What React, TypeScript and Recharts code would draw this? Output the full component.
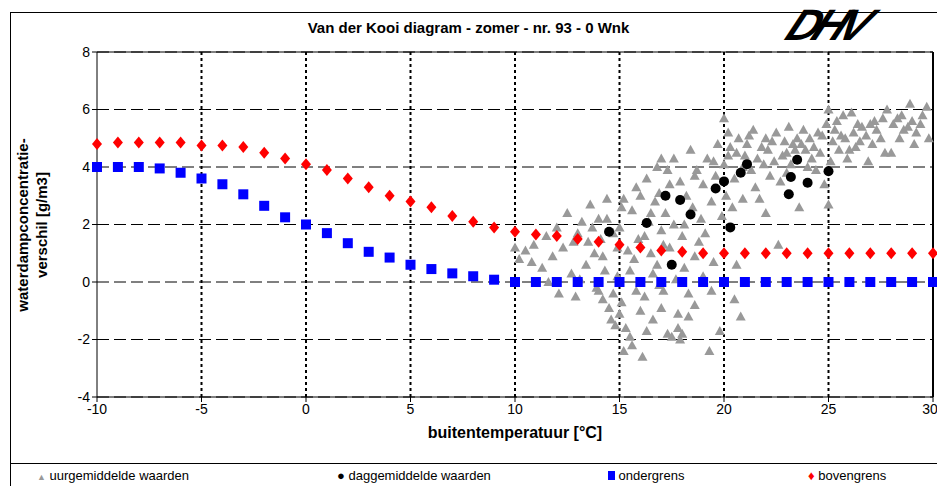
import { ScatterChart, Scatter, XAxis, YAxis, CartesianGrid, ReferenceLine } from 'recharts';

const xTicks = [-10, -5, 0, 5, 10, 15, 20, 25, 30];
const yTicks = [-4, -2, 0, 2, 4, 6, 8];

const ondergrensY = [4, 4, 4, 3.95, 3.8, 3.6, 3.4, 3.05, 2.65, 2.25, 2.0, 1.7, 1.35, 1.05, 0.85, 0.6, 0.45, 0.3, 0.2, 0.08,
  0, 0, 0, 0, 0, 0, 0, 0, 0, 0, 0, 0, 0, 0, 0, 0, 0, 0, 0, 0, 0];
const bovengrensY = [4.8, 4.85, 4.85, 4.85, 4.85, 4.75, 4.75, 4.7, 4.5, 4.3, 4.1, 3.9, 3.6, 3.3, 3.0, 2.8, 2.6, 2.3, 2.1, 1.9,
  1.75, 1.65, 1.6, 1.5, 1.4, 1.3, 1.2, 1.1, 1.05, 1.0, 1.0, 1.0, 1.0, 1.0, 1.0, 1.0, 1.0, 1.0, 1.0, 1.0, 1.0];

const daggemiddeld: [number, number][] = [
  [14.5, 1.75], [16.3, 2.05], [17.2, 3.0], [17.5, 0.6], [17.9, 2.85], [18.4, 2.35], [19.6, 3.25], [20.0, 3.5],
  [20.3, 1.9], [20.8, 3.8], [21.1, 4.1], [23.1, 3.05], [23.2, 3.65], [23.5, 4.25], [24.0, 3.45], [25.0, 3.85],
];

const uurgemiddeld: [number, number][] = [
  [10.2, 0.8], [10.5, 1.1], [10.9, 1.3], [11.3, 0.5], [11.5, 1.6], [11.8, 0.9], [12.0, 1.9], [12.3, 1.2],
  [12.5, 2.4], [12.7, 0.3], [13.0, 1.7], [13.2, 2.1], [13.4, 0.6], [13.5, 1.4], [13.6, 2.7], [13.8, 1.0],
  [13.9, -0.2], [14.0, 2.2], [14.1, 1.5], [14.2, -0.6], [14.3, 0.4], [14.4, 2.9], [14.5, -0.9], [14.6, -1.3],
  [14.7, -0.4], [14.8, -1.5], [14.9, 1.2], [15.0, -1.1], [15.1, 2.6], [15.2, -2.4], [15.3, -1.6], [15.5, -1.9],
  [15.6, -2.2], [15.7, 0.8], [15.8, 3.3], [16.0, -1.0], [16.1, -2.6], [16.2, 1.6], [16.3, 3.6], [16.5, 2.4],
  [16.6, 0.3], [16.8, 4.0], [17.0, 4.3], [17.1, 1.3], [17.3, -1.8], [17.4, 3.4], [17.5, -1.9], [17.6, 4.3],
  [17.8, -1.6], [17.9, -2.0], [18.0, -1.8], [18.1, 2.0], [18.3, -1.2], [18.4, 4.6], [18.6, 3.7], [18.8, 1.4],
  [19.0, 0.2], [19.3, -2.4], [19.5, 4.2], [19.8, -1.7], [20.0, 5.7], [20.2, 4.4], [20.4, 2.6], [20.6, 0.6],
  [20.9, 4.0], [21.2, 5.1], [21.5, 3.3], [21.8, 4.7], [22.0, 2.4], [22.3, 4.9], [22.6, 1.3], [22.8, 4.4],
  [23.0, 3.8], [23.3, 4.8], [23.6, 2.6], [23.9, 4.6], [24.2, 4.3], [24.5, 5.2], [24.8, 3.4], [25.0, 2.7],
  [25.2, 4.9], [25.4, 5.6], [25.6, 5.1], [25.9, 4.3], [26.1, 5.9], [26.3, 4.7], [26.6, 5.4], [26.9, 4.2],
  [27.2, 5.6], [27.5, 5.0], [27.8, 6.0], [28.0, 4.5], [28.3, 5.7], [28.6, 5.3], [28.9, 6.2], [29.1, 4.8],
  [29.4, 5.5], [29.7, 6.1], [29.8, 5.0],
  [10.0, 1.2], [10.8, 0.7], [11.6, 0.0], [12.1, -0.4], [12.8, 1.4], [13.1, 0.1], [13.7, 1.9], [14.2, 0.9],
  [14.4, 2.2], [14.7, 1.7], [14.9, 0.2], [15.0, 1.9], [15.2, 2.9], [15.4, 1.1], [15.5, 0.4], [15.6, 2.5],
  [15.9, 1.5], [16.0, 3.0], [16.2, -0.5], [16.4, 2.1], [16.5, 1.0], [16.7, 2.8], [16.8, 0.6], [16.9, 3.1],
  [17.0, 1.8], [17.1, -0.3], [17.2, 2.4], [17.3, 3.9], [17.4, 1.2], [17.6, 2.0], [17.7, 0.1], [17.9, 3.5],
  [18.0, 1.6], [18.2, 3.0], [18.3, -0.4], [18.5, 2.6], [18.6, 0.9], [18.7, 3.9], [18.9, 2.2], [19.0, 3.4],
  [19.1, 1.7], [19.2, 4.3], [19.4, 2.8], [19.5, 0.7], [19.6, 3.7], [19.7, 4.8], [19.9, 2.3], [20.0, 4.1],
  [20.1, 3.0], [20.2, 5.2], [20.3, 4.7], [20.5, 3.6], [20.6, 4.5], [20.7, 5.0], [20.9, 2.9], [21.0, 4.4],
  [21.1, 4.8], [21.3, 3.9], [21.4, 5.3], [21.6, 4.3], [21.7, 2.9], [21.9, 4.1], [22.0, 5.0], [22.1, 4.6],
  [22.2, 3.7], [22.4, 4.2], [22.5, 5.2], [22.7, 3.5], [22.9, 4.9], [23.0, 4.5], [23.1, 5.4], [23.2, 4.1],
  [23.4, 4.6], [23.5, 5.0], [23.7, 4.8], [23.8, 5.3], [24.0, 4.0], [24.1, 5.0], [24.3, 4.7], [24.4, 3.9],
  [24.6, 4.5], [24.7, 5.1], [24.9, 5.5], [25.0, 6.0], [25.1, 4.2], [25.3, 5.3], [25.5, 4.6], [25.7, 5.8],
  [25.8, 5.0], [26.0, 4.6], [26.2, 5.2], [26.4, 5.5], [26.5, 4.9], [26.8, 5.1], [27.0, 5.5], [27.1, 4.8],
  [27.3, 5.3], [27.6, 5.7], [27.7, 4.5], [28.1, 5.5], [28.4, 5.0], [28.5, 5.8], [28.8, 5.4], [29.0, 5.6],
  [29.2, 5.2], [29.5, 5.8], [16.6, -1.3], [17.0, -0.9], [15.8, -0.3], [16.3, -1.7], [18.6, -0.8], [19.4, -0.3],
  [20.5, -0.6], [15.1, -0.7], [14.0, -0.3], [17.8, -1.1], [12.9, -0.5], [20.8, -1.2], [16.9, -0.1], [18.1, 0.5],
];

const onder = ondergrensY.map((y, i) => ({ x: i - 10, y }));
const boven = bovengrensY.map((y, i) => ({ x: i - 10, y }));
const dag = daggemiddeld.map(([x, y]) => ({ x, y }));
const uur = uurgemiddeld.map(([x, y]) => ({ x, y }));

const tri = (p: any) => (
  <polygon points={`${p.cx},${p.cy - 5} ${p.cx - 5},${p.cy + 4} ${p.cx + 5},${p.cy + 4}`} fill="#999999" />
);
const dot = (p: any) => <circle cx={p.cx} cy={p.cy} r={5} fill="#000000" />;
const square = (p: any) => <rect x={p.cx - 5} y={p.cy - 5} width={10} height={10} fill="#0000ff" />;
const diamond = (p: any) => (
  <polygon points={`${p.cx},${p.cy - 6} ${p.cx + 5},${p.cy} ${p.cx},${p.cy + 6} ${p.cx - 5},${p.cy}`} fill="#ff0000" />
);

const font = 'Arial, "Liberation Sans", sans-serif';

export default function App() {
  return (
    <div style={{ position: 'absolute', left: 0, top: 0, width: 937, height: 486, background: '#fff', fontFamily: font, overflow: 'hidden' }}>
      <div style={{ position: 'absolute', left: 10, top: 12, width: 940, height: 480, border: '1px solid #000' }} />
      <div style={{ position: 'absolute', left: 0, width: 937, top: 19, textAlign: 'center', fontWeight: 'bold', fontSize: 15 }}>
        Van der Kooi diagram - zomer - nr. 93 - 0 Wnk
      </div>
      <div style={{ position: 'absolute', left: 790, top: 0, fontSize: 44, lineHeight: '50px', fontWeight: 900, fontStyle: 'italic', transform: 'skewX(-25deg)', letterSpacing: -6 }}>
        DHV
      </div>
      <ScatterChart width={937} height={486} margin={{ top: 52, right: 4, left: 0, bottom: 0 }} style={{ position: 'absolute', left: 0, top: 0 }}>
        <CartesianGrid vertical={false} stroke="#000" strokeDasharray="12 5" />
        {xTicks.slice(1, -1).map((t) => (
          <ReferenceLine key={t} x={t} stroke="#000" strokeWidth={2} strokeDasharray="3 3" />
        ))}
        <XAxis type="number" dataKey="x" domain={[-10, 30]} ticks={xTicks} height={89} stroke="#000" tickSize={5}
          tick={{ fill: '#000', fontSize: 14, fontFamily: font }}
          label={{ value: 'buitentemperatuur [°C]', position: 'insideTop', offset: 30, fill: '#000', fontSize: 16, fontWeight: 'bold' }} />
        <YAxis type="number" dataKey="y" domain={[-4, 8]} ticks={yTicks} width={97} stroke="#000" tickSize={5}
          tick={{ fill: '#000', fontSize: 14, fontFamily: font }} />
        <ReferenceLine x={30} stroke="#000" strokeWidth={2} />
        <ReferenceLine y={8} stroke="#000" />
        <Scatter data={uur} shape={tri} isAnimationActive={false} />
        <Scatter data={dag} shape={dot} isAnimationActive={false} />
        <Scatter data={onder} shape={square} isAnimationActive={false} />
        <Scatter data={boven} shape={diamond} isAnimationActive={false} />
        <text transform="translate(37,225) rotate(-90)" textAnchor="middle" fontSize={15} fontWeight="bold" fill="#000">
          <tspan x={0} dy={-9}>waterdampconcentratie-</tspan>
          <tspan x={0} dy={19}>verschil [g/m3]</tspan>
        </text>
      </ScatterChart>
      <div style={{ position: 'absolute', left: 10, top: 463, width: 940, height: 30, borderTop: '1px solid #000', fontSize: 13, color: '#000' }}>
        <span style={{ position: 'absolute', left: 27, top: 4 }}><span style={{ color: '#999', fontSize: 9 }}>▲</span> uurgemiddelde waarden</span>
        <span style={{ position: 'absolute', left: 327, top: 4 }}>● daggemiddelde waarden</span>
        <span style={{ position: 'absolute', left: 598, top: 4 }}><span style={{ display: 'inline-block', width: 7, height: 9, background: '#0000ff' }} /> ondergrens</span>
        <span style={{ position: 'absolute', left: 798, top: 4 }}><span style={{ color: '#ff0000' }}>♦</span> bovengrens</span>
      </div>
    </div>
  );
}
